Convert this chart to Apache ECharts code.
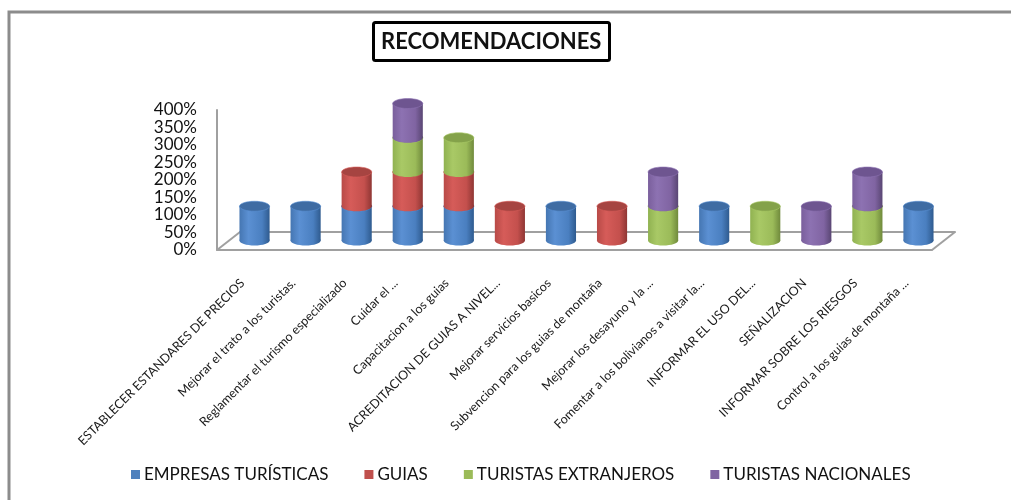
<!DOCTYPE html>
<html>
<head>
<meta charset="utf-8">
<script src="https://cdn.jsdelivr.net/npm/echarts@6/dist/echarts.min.js"></script>
<style>
  html, body { margin: 0; padding: 0; background: #fff; }
  #recomendaciones { width: 1011px; height: 500px; }
</style>
</head>
<body>
<div id="recomendaciones"></div>
<script>
const categories = [
    'ESTABLECER ESTANDARES DE PRECIOS',
    'Mejorar el trato a los turistas.',
    'Reglamentar el turismo especializado',
    'Cuidar el ...',
    'Capacitacion a los guias',
    'ACREDITACION DE GUIAS A NIVEL...',
    'Mejorar servicios basicos',
    'Subvencion para los guias de montaña',
    'Mejorar los desayuno y la ...',
    'Fomentar a los bolivianos a visitar la...',
    'INFORMAR EL USO DEL...',
    'SEÑALIZACION',
    'INFORMAR SOBRE LOS RIESGOS',
    'Control a los guias de montaña ...'
];
const seriesNames = ['EMPRESAS TURÍSTICAS', 'GUIAS', 'TURISTAS EXTRANJEROS', 'TURISTAS NACIONALES'];
const empresas    = [100, 100, 100, 100, 100, 0, 100, 0, 0, 100, 0, 0, 0, 100];
const guias       = [0, 0, 100, 100, 100, 100, 0, 100, 0, 0, 0, 0, 0, 0];
const extranjeros = [0, 0, 0, 100, 100, 0, 0, 0, 100, 0, 100, 0, 100, 0];
const nacionales  = [0, 0, 0, 100, 0, 0, 0, 0, 100, 0, 0, 100, 100, 0];
const yTicks = { min: 0, max: 400, interval: 50 };

const colores = ['#4F81BD', '#C0504D', '#9BBB59', '#8064A2'];
const sombras = [
    { stops: ['#4576b2', '#5b90d3', '#4a7fc0', '#2f5b8f'], cap: '#3f6ca3' },
    { stops: ['#b84a47', '#d65c59', '#c4504d', '#8f3634'], cap: '#a64441' },
    { stops: ['#90b251', '#a9c966', '#9bbb59', '#708a3c'], cap: '#84a24a' },
    { stops: ['#7a5f9c', '#8d72b2', '#8064a2', '#594673'], cap: '#6e5590' }
];

const chart = echarts.init(document.getElementById('recomendaciones'));

// apilar a mano: cada tramo va de la suma anterior a la suma nueva
const valores = [empresas, guias, extranjeros, nacionales];
const base = categories.map(() => 0);
const tramos = valores.map(serie => {
    const items = [];
    serie.forEach((v, i) => {
        if (v > 0) items.push([i, base[i], base[i] + v]);
        base[i] += v;
    });
    return items;
});

function cilindro(params, api) {
    const bottom = api.coord([api.value(0), api.value(1)]);
    const top = api.coord([api.value(0), api.value(2)]);
    const rx = api.size([1, 0])[0] * 0.295;
    const ry = 5;
    const s = sombras[params.seriesIndex];
    const fill = new echarts.graphic.LinearGradient(0, 0, 1, 0, [
        { offset: 0, color: s.stops[0] },
        { offset: 0.3, color: s.stops[1] },
        { offset: 0.75, color: s.stops[2] },
        { offset: 1, color: s.stops[3] }
    ]);
    return {
        type: 'group',
        children: [
            { type: 'ellipse', shape: { cx: bottom[0], cy: bottom[1], rx: rx, ry: ry }, style: { fill: fill } },
            { type: 'rect', shape: { x: bottom[0] - rx, y: top[1], width: rx * 2, height: bottom[1] - top[1] }, style: { fill: fill } },
            { type: 'ellipse', shape: { cx: top[0], cy: top[1], rx: rx, ry: ry }, style: { fill: s.cap, stroke: s.stops[1], lineWidth: 0.6 } }
        ]
    };
}

const lineaPiso = { show: true, lineStyle: { color: '#a0a0a0', width: 2 } };

const option = {
    backgroundColor: '#fff',
    animation: false,
    textStyle: { fontFamily: 'Lato' },
    title: {
        text: 'RECOMENDACIONES',
        left: 373,
        top: 22,
        padding: [9, 8, 8, 8],
        borderColor: '#000',
        borderWidth: 3,
        borderRadius: 2,
        textStyle: { fontFamily: 'Lato', fontWeight: 'bold', fontSize: 22, color: '#111' }
    },
    legend: {
        left: 126,
        top: 461,
        icon: 'rect',
        itemWidth: 9,
        itemHeight: 9,
        itemGap: 36,
        textStyle: { fontFamily: 'Lato', fontSize: 17, color: '#111', padding: [0, 0, 0, -1] },
        data: seriesNames
    },
    grid: [
        { left: 217, top: 110, width: 715, height: 140 },
        { left: 240, top: 92, width: 715, height: 140 },
        { left: 229, top: 103.5, width: 715, height: 137 }
    ],
    xAxis: [
        {
            type: 'category', gridIndex: 0, data: categories,
            axisLine: lineaPiso, axisTick: { show: false },
            axisLabel: { interval: 0, rotate: 45, margin: 31, fontSize: 12.5, color: '#1a1a1a', fontFamily: 'Lato' }
        },
        { type: 'category', gridIndex: 1, data: categories, axisLine: lineaPiso, axisTick: { show: false }, axisLabel: { show: false } },
        { type: 'category', gridIndex: 2, data: categories, show: false }
    ],
    yAxis: [
        {
            type: 'value', gridIndex: 0, min: yTicks.min, max: yTicks.max, interval: yTicks.interval,
            axisLine: lineaPiso, axisTick: { show: false }, splitLine: { show: false },
            axisLabel: { formatter: '{value}%', margin: 20, fontSize: 17, color: '#111', fontFamily: 'Lato' }
        },
        { type: 'value', gridIndex: 1, min: yTicks.min, max: yTicks.max, show: false },
        { type: 'value', gridIndex: 2, min: yTicks.min, max: yTicks.max, show: false }
    ],
    graphic: [
        { type: 'rect', z: -1, shape: { x: 9, y: 12, width: 1100, height: 600 }, style: { fill: 'none', stroke: '#8c8c8c', lineWidth: 3 } },
        { type: 'line', shape: { x1: 217, y1: 250, x2: 240, y2: 232 }, style: { stroke: '#a0a0a0', lineWidth: 2 } },
        { type: 'line', shape: { x1: 932, y1: 250, x2: 955, y2: 232 }, style: { stroke: '#a0a0a0', lineWidth: 2 } }
    ],
    series: seriesNames.map((name, k) => ({
        name: name,
        type: 'custom',
        xAxisIndex: 2,
        yAxisIndex: 2,
        renderItem: cilindro,
        itemStyle: { color: colores[k] },
        encode: { x: 0, y: [1, 2] },
        data: tramos[k]
    }))
};
chart.setOption(option);
</script>
</body>
</html>
